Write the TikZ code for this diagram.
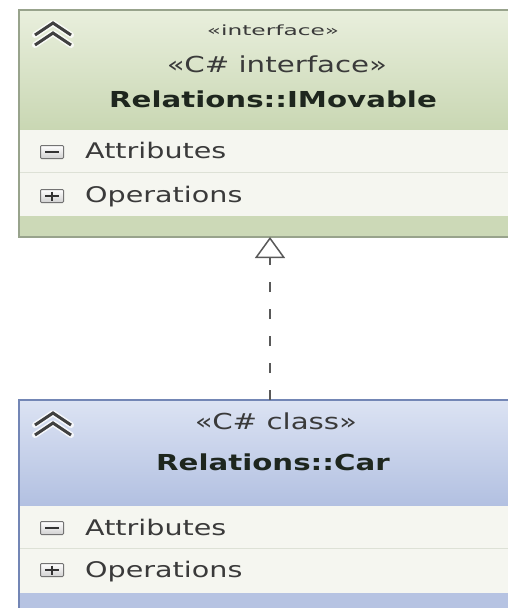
\documentclass[tikz,border=0pt]{standalone}
\usepackage{fontspec}
\setmainfont{DejaVu Sans}[FakeStretch=1.33]
\usetikzlibrary{arrows.meta,positioning,fit,calc}
\definecolor{igreentop}{HTML}{E9EFDD}
\definecolor{igreenbot}{HTML}{C9D7B3}
\definecolor{igreenline}{HTML}{98A38C}
\definecolor{cbluetop}{HTML}{DCE3F3}
\definecolor{cbluebot}{HTML}{B2C0E1}
\definecolor{cblueline}{HTML}{7386B5}
\definecolor{rowfill}{HTML}{F5F6F0}
\definecolor{rowline}{HTML}{DDE1D6}
\definecolor{labeltext}{HTML}{3A3A3A}
\definecolor{nametext}{HTML}{1E261E}

\begin{document}
\begin{tikzpicture}[x=1pt, y=-1pt,
  part/.style={rectangle, inner sep=0pt, outer sep=0pt, minimum width=508pt},
  ihead/.style={part, minimum height=120pt, top color=igreentop, bottom color=igreenbot},
  chead/.style={part, minimum height=106pt, top color=cbluetop, bottom color=cbluebot},
  row/.style={part, minimum height=43pt, fill=rowfill},
  ifoot/.style={part, minimum height=21pt, fill=igreenbot!95!white},
  cfoot/.style={part, minimum height=30pt, fill=cbluebot!95!white},
  outline/.style={rectangle, inner sep=0pt, outer sep=0pt, line width=1.5pt},
  stereo/.style={font=\fontsize{22}{25}\selectfont, text=labeltext, anchor=base},
  tinystereo/.style={font=\fontsize{14}{16}\selectfont, text=labeltext, anchor=base},
  classname/.style={font=\fontsize{22}{25}\selectfont\bfseries, text=nametext, anchor=base},
  rowlabel/.style={font=\fontsize{21.5}{24}\selectfont, text=labeltext, anchor=base west, inner sep=0pt},
  toggle/.style={rectangle, draw=black!55, line width=1pt, rounded corners=1pt,
                 top color=white, bottom color=black!18, minimum width=23pt,
                 minimum height=13pt, inner sep=0pt},
  realize/.style={draw=black!65, line width=1.5pt, dash pattern=on 10pt off 17pt,
                  -{Triangle[open, length=21pt, width=30pt, line width=1.5pt]}},
  collapse/.pic={
    \foreach \dy in {0,10} {
      \draw[white, line width=6pt, opacity=0.8, line cap=round, line join=round]
        (-18,\dy+1) -- (0,\dy-11) -- (18,\dy+1);
      \draw[black!75, line width=3pt, line join=miter]
        (-18,\dy+1) -- (0,\dy-11) -- (18,\dy+1);
    }
  },
]
  \path[use as bounding box] (0,0) rectangle (508,608);
  \clip (0,0) rectangle (508,608);
  \fill[white] (0,0) rectangle (508,608);

  % interface box
  \node[ihead] (imovhead) at (273,70) {};
  \node[row, below=0pt of imovhead, minimum height=42pt] (imovattr) {};
  \node[row, below=0pt of imovattr, minimum height=44pt] (imovops) {};
  \node[ifoot, below=0pt of imovops] (imovfoot) {};
  \draw[rowline, line width=1pt] (imovattr.south west) -- (imovattr.south east);
  \node[outline, draw=igreenline, fit=(imovhead)(imovfoot)] (imov) {};

  \pic at (53,34) {collapse};
  \node[tinystereo] (imovtag) at (273,35) {\scalebox{1.25}[1]{«interface»}};
  \node[stereo] (imovstereo) at (277,72) {«C\# interface»};
  \node[classname] (imovname) at (273,107) {Relations::IMovable};

  \node[toggle] (imovattrbox) at (52,152) {};
  \draw[black!80, line width=1.5pt] ([xshift=5pt]imovattrbox.west) -- ([xshift=-5pt]imovattrbox.east);
  \node[rowlabel] (imovattrtxt) at (85,158) {Attributes};
  \node[toggle] (imovopsbox) at (52,196) {};
  \draw[black!80, line width=1.5pt] ([xshift=5pt]imovopsbox.west) -- ([xshift=-5pt]imovopsbox.east)
    ([yshift=4.5pt]imovopsbox.center) -- ([yshift=-4.5pt]imovopsbox.center);
  \node[rowlabel] (imovopstxt) at (85,202) {Operations};

  % class box
  \node[chead] (carhead) at (273,453) {};
  \node[row, below=0pt of carhead, minimum height=42pt] (carattr) {};
  \node[row, below=0pt of carattr, minimum height=45pt] (carops) {};
  \node[cfoot, below=0pt of carops] (carfoot) {};
  \draw[rowline, line width=1pt] (carattr.south west) -- (carattr.south east);
  \node[outline, draw=cblueline, fit=(carhead)(carfoot)] (car) {};

  \pic at (53,424) {collapse};
  \node[stereo] (carstereo) at (276,429) {«C\# class»};
  \node[classname] (carname) at (273,470) {Relations::Car};

  \node[toggle] (carattrbox) at (52,528) {};
  \draw[black!80, line width=1.5pt] ([xshift=5pt]carattrbox.west) -- ([xshift=-5pt]carattrbox.east);
  \node[rowlabel] (carattrtxt) at (85,535) {Attributes};
  \node[toggle] (caropsbox) at (52,570) {};
  \draw[black!80, line width=1.5pt] ([xshift=5pt]caropsbox.west) -- ([xshift=-5pt]caropsbox.east)
    ([yshift=4.5pt]caropsbox.center) -- ([yshift=-4.5pt]caropsbox.center);
  \node[rowlabel] (caropstxt) at (85,577) {Operations};

  \draw[realize] ([xshift=-3pt]car.north) -- ([xshift=-3pt]imov.south);
\end{tikzpicture}
\end{document}
